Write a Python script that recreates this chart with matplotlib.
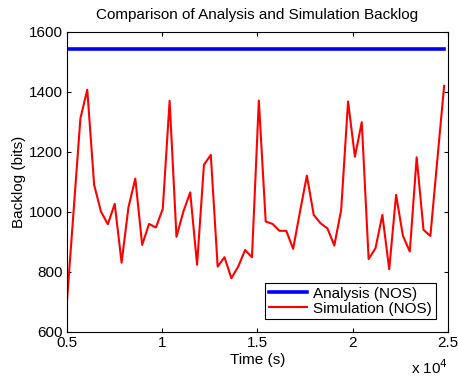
import matplotlib
matplotlib.use('Agg')
import matplotlib.pyplot as plt
import numpy as np

plt.rcParams['font.family'] = ['Liberation Sans', 'DejaVu Sans']

# time samples (s), 360 s apart
time_s = [5000 + 360 * i for i in range(56)]

sim_backlog = [689, 1000, 1311, 1406, 1089, 1000, 958, 1026, 830, 1014,
               1110, 889, 959, 947, 1009, 1369, 916, 1000, 1064, 823,
               1156, 1189, 817, 848, 778, 817, 872, 848, 1370, 967,
               959, 936, 936, 876, 1000, 1120, 989, 961, 944, 887,
               1006, 1367, 1183, 1298, 842, 878, 989, 808, 1056, 919,
               867, 1181, 939, 919, 1170, 1419]

analysis_backlog = 1541

t = np.array(time_s) / 1e4

fig = plt.figure(figsize=(4.58, 3.76), dpi=100)
ax = fig.add_axes([0.1456, 0.118, 0.8324, 0.798])

ax.plot(t, [analysis_backlog] * len(t), color='blue', lw=2.6, label='Analysis (NOS)')
ax.plot(t, sim_backlog, color='red', lw=1.5, label='Simulation (NOS)')

ax.set_xlim(0.5, 2.5)
ax.set_ylim(600, 1600)
ax.set_xticks([0.5, 1, 1.5, 2, 2.5])
ax.set_xticklabels(['0.5', '1', '1.5', '2', '2.5'])
ax.set_yticks(range(600, 1601, 200))
ax.tick_params(direction='in', top=True, right=True, labelsize=11, length=3, pad=3)

ax.set_title('Comparison of Analysis and Simulation Backlog', fontsize=11, pad=9)
ax.set_xlabel('Time (s)', fontsize=11, labelpad=2)
ax.set_ylabel('Backlog (bits)', fontsize=11, labelpad=2)
fig.text(0.898, 0.004, r'x 10$^4$', fontsize=11)

leg = ax.legend(loc='lower right', fontsize=11, fancybox=False, framealpha=1,
                edgecolor='black', borderaxespad=0.8, handlelength=2.5,
                borderpad=0.25, labelspacing=0.05, handletextpad=0.4)
leg.get_frame().set_linewidth(0.8)

fig.savefig('out.png', dpi=100)
